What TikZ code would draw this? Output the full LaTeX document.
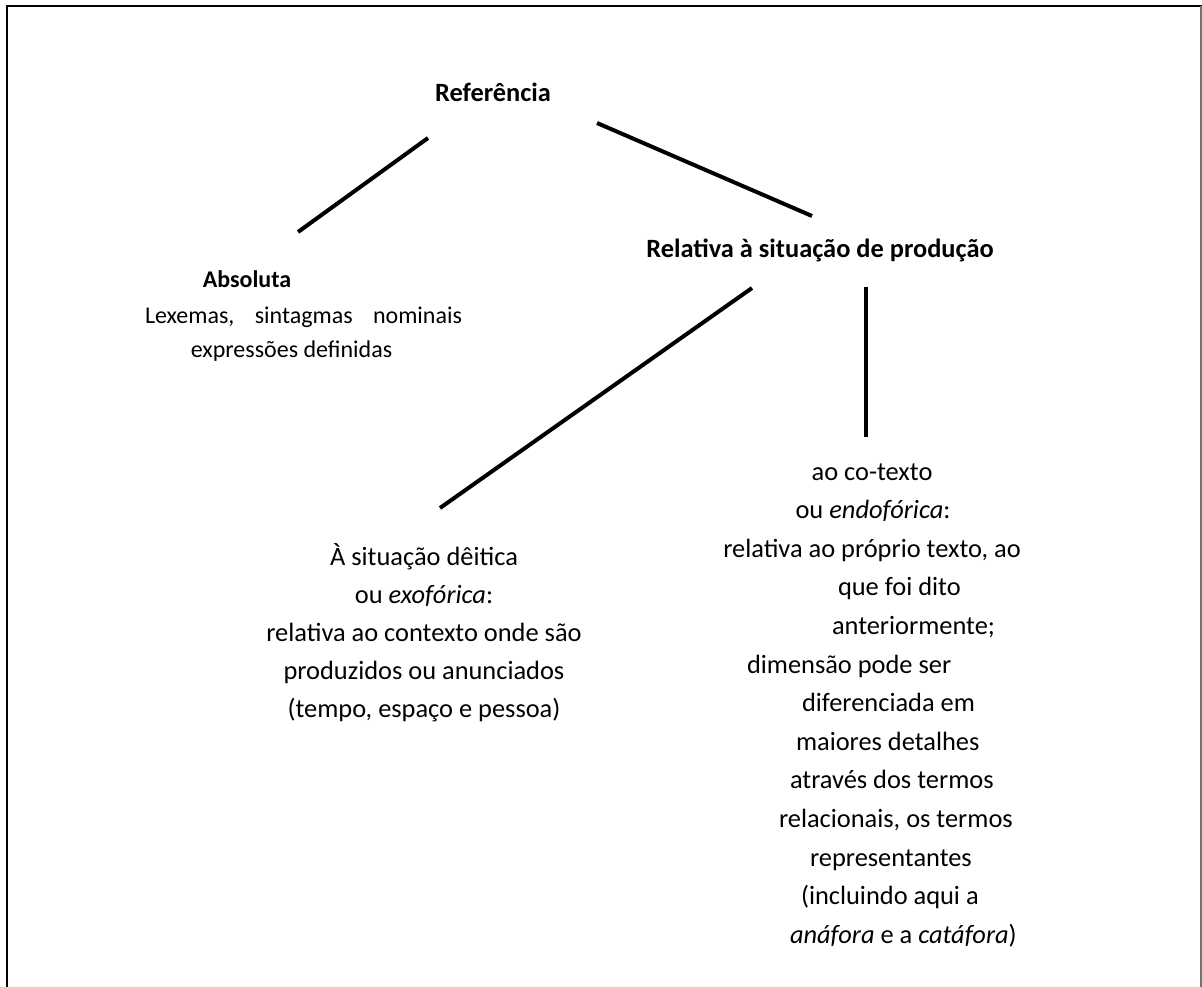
\documentclass[tikz,border=0pt]{standalone}
\usepackage{fontspec}
\setmainfont{Carlito}
\begin{document}
\begin{tikzpicture}[x=0.75pt,y=-0.75pt,
  txt/.style={anchor=base,inner sep=0pt,outer sep=0pt,font=\fontsize{19.8pt}{24pt}\selectfont},
  txtw/.style={txt,anchor=base west},
  small/.style={anchor=base,inner sep=0pt,outer sep=0pt,font=\fontsize{18pt}{22pt}\selectfont},
  branch/.style={line width=3pt,black},
  frame/.style={line width=1.5pt,black}]
\useasboundingbox (0,0) rectangle (1202,987);
% frame
\draw[frame] (7,987) -- (7,6) -- (1202,6);
\draw[line width=1pt,black!55] (1201,6) -- (1201,987);
% titles
\node[txt,font=\fontsize{19.8pt}{24pt}\selectfont\bfseries] (ref) at (493,102) {Referência};
\node[small,font=\fontsize{18pt}{22pt}\selectfont\bfseries] (abs) at (247,288) {Absoluta};
\node[small,anchor=base west] (abs1) at (145,324) {\makebox[237.75pt][s]{Lexemas,\hfil sintagmas\hfil nominais}};
\node[small] (abs2) at (291.5,358) {expressões definidas};
\node[txt,font=\fontsize{19.8pt}{24pt}\selectfont\bfseries] (rel) at (820,258) {Relativa à situação de produção};
% left block
\node[txt] (l1) at (424,565) {À situação dêitica};
\node[txt] (l2) at (424,603) {ou \textit{exofórica}:};
\node[txt] (l3) at (424,641) {relativa ao contexto onde são};
\node[txt] (l4) at (424,679) {produzidos ou anunciados};
\node[txt] (l5) at (424,717) {(tempo, espaço e pessoa)};
% right block
\node[txt] (r1) at (872,480) {ao co-texto};
\node[txt] (r2) at (873,518.6) {ou \textit{endofórica}:};
\node[txt] (r3) at (872,557.2) {relativa ao próprio texto, ao};
\node[txtw] (r4) at (838,595.8) {que foi dito};
\node[txtw] (r5) at (832,634.4) {anteriormente;};
\node[txtw] (r6) at (747,673) {dimensão pode ser};
\node[txtw] (r7) at (802,711.6) {diferenciada em};
\node[txtw] (r8) at (796,750.2) {maiores detalhes};
\node[txtw] (r9) at (790,788.8) {através dos termos};
\node[txtw] (r10) at (779,827.4) {relacionais, os termos};
\node[txtw] (r11) at (810,866) {representantes};
\node[txtw] (r12) at (801,904.6) {(incluindo aqui a};
\node[txtw] (r13) at (790,943.2) {\textit{anáfora} e a \textit{catáfora})};
% connector end points
\coordinate (refL) at (428,138);
\coordinate (absT) at (298,232);
\coordinate (refR) at (597,123);
\coordinate (relT) at (812,216);
\coordinate (relL) at (752,288);
\coordinate (lT) at (440,508);
\coordinate (relR) at (866,287);
\coordinate (rT) at (866,437);
\draw[branch] (refL) -- (absT);
\draw[branch] (refR) -- (relT);
\draw[branch] (relL) -- (lT);
\draw[branch] (relR) -- (rT);
\end{tikzpicture}
\end{document}
